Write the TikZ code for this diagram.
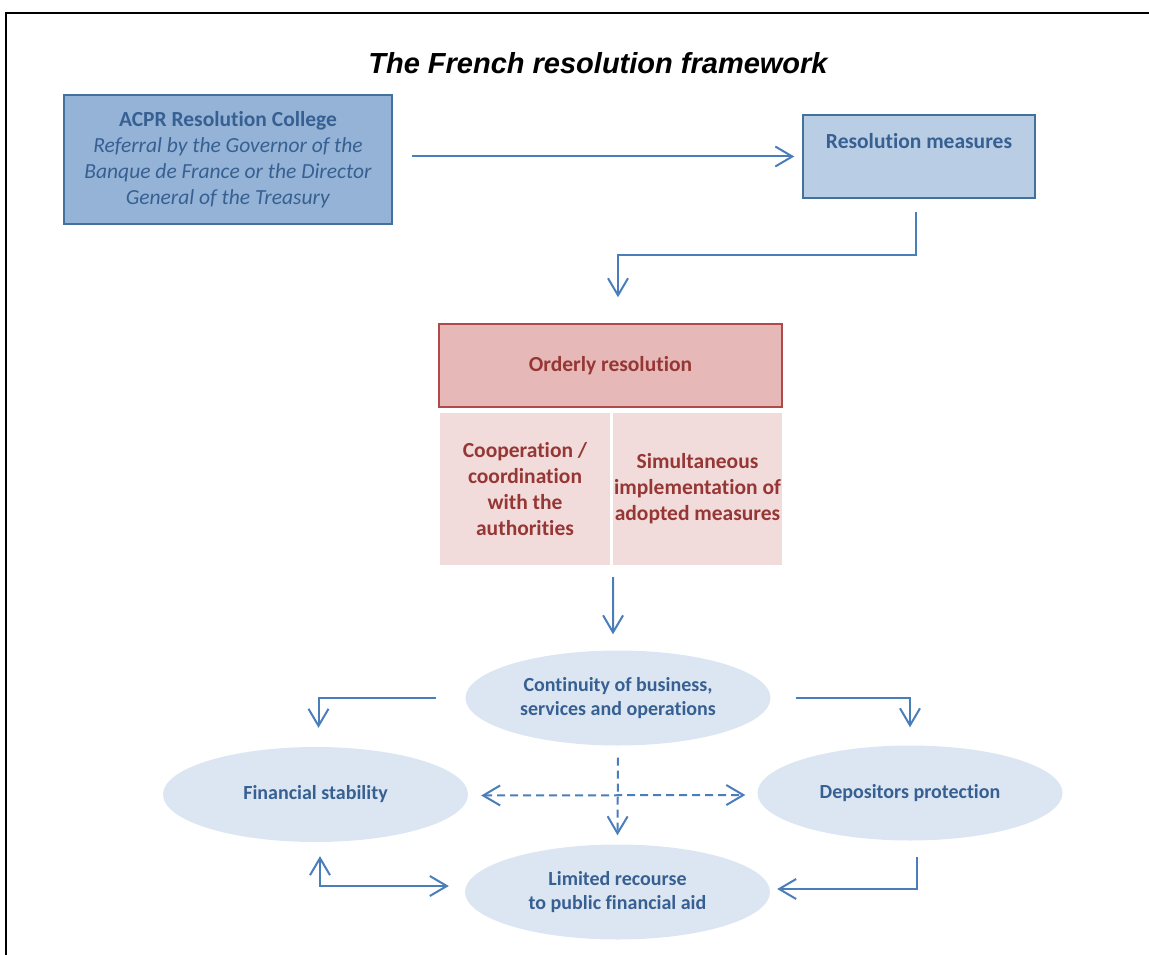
\documentclass[tikz,border=0pt]{standalone}
\usepackage{fontspec}
\setmainfont[Ligatures=NoCommon]{Carlito}
\newfontfamily\arialfont{Liberation Sans}
\usetikzlibrary{arrows.meta,shapes.geometric}
\definecolor{txtblue}{HTML}{376092}
\definecolor{lineblue}{HTML}{4A7EBB}
\definecolor{acprfill}{HTML}{95B3D7}
\definecolor{acprdraw}{HTML}{41719C}
\definecolor{measfill}{HTML}{B9CDE5}
\definecolor{ovalfill}{HTML}{DCE6F2}
\definecolor{ordfill}{HTML}{E6B9B8}
\definecolor{orddraw}{HTML}{B04A48}
\definecolor{subfill}{HTML}{F2DCDB}
\definecolor{txtred}{HTML}{953735}
\tikzset{
  bluebox/.style={draw=acprdraw, line width=1.5pt, inner sep=0pt, align=center, text=txtblue,
    font=\fontsize{21.5}{26}\selectfont},
  ordbox/.style={draw=orddraw, line width=1.5pt, fill=ordfill, inner sep=0pt, align=center, text=txtred,
    font=\fontsize{21.5}{26}\selectfont\bfseries},
  subbox/.style={fill=subfill, inner sep=0pt, align=center, text=txtred,
    font=\fontsize{21.5}{26}\selectfont\bfseries},
  oval/.style={ellipse, fill=ovalfill, minimum width=305pt, minimum height=95pt, inner sep=0pt,
    align=center, text=txtblue, font=\fontsize{20}{23.5}\selectfont\bfseries},
  arr/.style={draw=lineblue, line width=2pt, -{Straight Barb[length=17pt,width=20pt]}},
  arrboth/.style={draw=lineblue, line width=2pt, {Straight Barb[length=17pt,width=20pt]}-{Straight Barb[length=17pt,width=20pt]}},
  dasharr/.style={arr, dash pattern=on 8pt off 5pt},
  dashboth/.style={arrboth, dash pattern=on 8pt off 5pt},
}
\begin{document}
\begin{tikzpicture}[x=1pt,y=-1pt]
\useasboundingbox (0,0) rectangle (1149,955);
\draw[line width=2pt] (6,955) -- (6,13) -- (1149,13);
\node[font=\arialfont\fontsize{29}{32}\selectfont\bfseries\itshape] (title) at (598,63) {The French resolution framework};
\node[bluebox, fill=acprfill, minimum width=328pt, minimum height=129pt] (acpr) at (228,159.5)
  {\textbf{ACPR Resolution College}\\\textit{Referral by the Governor of the}\\\textit{Banque de France or the Director}\\\textit{General of the Treasury}};
\node[bluebox, fill=measfill, minimum width=232pt, minimum height=83pt, text height=15pt, text depth=30pt, font=\fontsize{21.5}{26}\selectfont\bfseries] (meas) at (919,156.5) {Resolution measures};
\node[ordbox, minimum width=343pt, minimum height=83pt] (ord) at (610.5,365.5) {Orderly resolution};
\node[subbox, minimum width=170pt, minimum height=152pt] (coop) at (525,489) {Cooperation /\\coordination\\with the\\authorities};
\node[subbox, minimum width=169pt, minimum height=152pt] (simul) at (697.5,489) {Simultaneous\\\makebox[150pt]{implementation of}\\adopted measures};
\node[oval] (cont) at (618,698) {Continuity of business,\\services and operations};
\node[oval] (fin) at (315.5,794.5) {Financial stability};
\node[oval] (dep) at (910,793) {Depositors protection};
\node[oval] (lim) at (617.5,892) {Limited recourse\\to public financial aid};
% connectors
\draw[arr] ([xshift=19pt]acpr.east |- meas.west) -- ([xshift=-8pt]meas.west);
\draw[arr] ([xshift=-3pt,yshift=-13pt]meas.south) -- ++(0,43) -| ([xshift=7.5pt,yshift=26pt]ord.north);
\draw[arr] ([xshift=3pt,yshift=-12pt]coop.south east) -- ([xshift=-5pt,yshift=16pt]cont.north);
\draw[arr] ([xshift=-29pt]cont.west) -| ([xshift=3pt,yshift=19pt]fin.north);
\draw[arr] ([xshift=25pt]cont.east) -| ([yshift=18pt]dep.north);
\draw[dasharr] ([yshift=-12pt]cont.south) -- ([yshift=9pt]lim.north);
\draw[dashboth] ([xshift=13pt,yshift=-1pt]fin.east) -- ([xshift=-12pt,yshift=-2pt]dep.west);
\draw[arrboth] ([xshift=4.5pt,yshift=-14pt]fin.south) |- ([xshift=-16pt,yshift=6pt]lim.west);
\draw[arr] ([xshift=7pt,yshift=-16pt]dep.south) |- ([xshift=7pt,yshift=3pt]lim.east);
\end{tikzpicture}
\end{document}
